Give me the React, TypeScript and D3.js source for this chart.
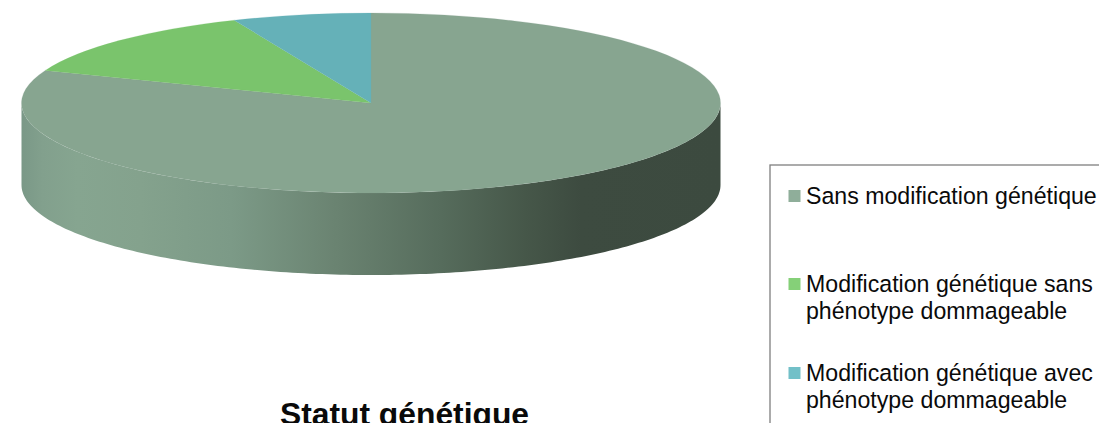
import React from "react";
import * as d3 from "d3";

const categories = ["Sans modification génétique", "Modification génétique sans phénotype dommageable", "Modification génétique avec phénotype dommageable"];
const values = [80.9, 12.7, 6.4];
const topColors = ["#87a590", "#7ac46c", "#65b1b8"];
const legendColors = ["#8fae9a", "#85d078", "#72c0c8"];
const legendLines = [["Sans modification génétique"], ["Modification génétique sans", "phénotype dommageable"], ["Modification génétique avec", "phénotype dommageable"]];
const legendBase = [204, 292, 381];
const sideStops: [number, string][] = [[0, "#7a9887"], [0.03, "#82a08d"], [0.08, "#86a590"], [0.17, "#84a28d"], [0.3, "#7c9a87"], [0.45, "#6a8371"], [0.6, "#566c5c"], [0.72, "#465749"], [0.8, "#3d4b40"], [1, "#3c4a3f"]];

const cx = 371, cy = 103, rx = 349.5, ry = 90, depth = 82;

export default function App() {
  const pie = d3.pie<number>().sort(null).startAngle(0).endAngle(2 * Math.PI);
  const arcs = pie(values);
  const arc = d3.arc<d3.PieArcDatum<number>>().innerRadius(0).outerRadius(rx);
  const sideAngles = d3.range(0, 181, 1).map((a) => (a * Math.PI) / 180);
  const side = d3.area<number>()
    .x((t) => cx + rx * Math.cos(t))
    .y0((t) => cy + ry * Math.sin(t))
    .y1((t) => cy + ry * Math.sin(t) + depth)(sideAngles)!;
  return (
    <svg width={1099} height={423} style={{ position: "absolute", left: 0, top: 0, background: "#fff", fontFamily: "'Liberation Sans', Arial, sans-serif" }}>
      <defs>
        <linearGradient id="side" gradientUnits="userSpaceOnUse" x1={cx - rx} x2={cx + rx} y1={0} y2={0}>
          {sideStops.map(([o, c]) => <stop key={o} offset={o} stopColor={c} />)}
        </linearGradient>
      </defs>
      <path d={side} fill="url(#side)" />
      <g transform={`translate(${cx},${cy}) scale(1,${ry / rx})`}>
        {arcs.map((a, i) => <path key={i} d={arc(a)!} fill={topColors[i]} stroke={topColors[i]} strokeWidth={0.3} />)}
      </g>
      <rect x={770} y={165} width={340} height={280} fill="none" stroke="#7f7f7f" strokeWidth={1.3} />
      {categories.map((c, i) => (
        <g key={c}>
          <rect x={788.5} y={legendBase[i] - 14} width={12} height={12} fill={legendColors[i]} />
          <text x={806} y={legendBase[i]} fontSize={23.15} fill="#0a0a0a">
            {legendLines[i].map((l, j) => <tspan key={j} x={806} dy={j ? 27 : 0}>{l}</tspan>)}
          </text>
        </g>
      ))}
      <text x={404.5} y={425} textAnchor="middle" fontSize={31.8} fontWeight="bold" fill="#0a0a0a">Statut génétique</text>
    </svg>
  );
}
